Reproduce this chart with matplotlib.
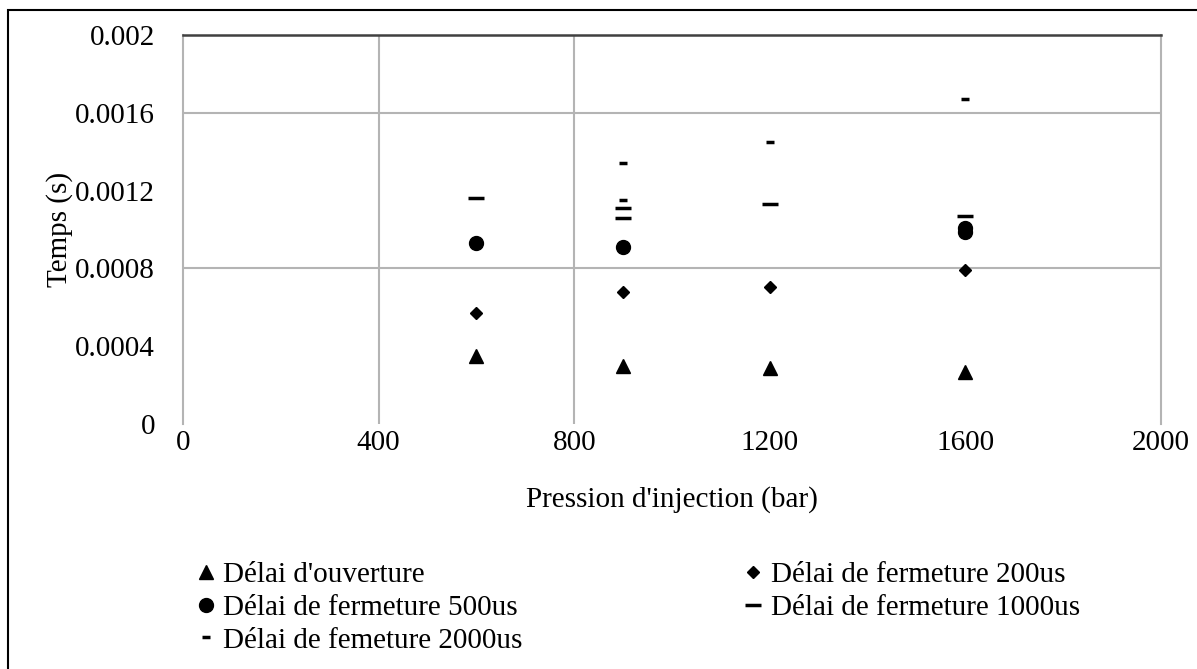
import matplotlib.pyplot as plt
from matplotlib.patches import Rectangle

plt.rcParams['font.family'] = ['Liberation Serif', 'DejaVu Serif']

# data
x_ouv = [600, 900, 1200, 1600]
y_ouv = [0.00035, 0.00030, 0.00029, 0.000267]

x_200 = [600, 900, 1200, 1600]
y_200 = [0.00057, 0.00068, 0.000705, 0.00079]

x_500 = [600, 900, 1600, 1600]
y_500 = [0.00093, 0.00091, 0.00099, 0.00101]

x_1000 = [600, 900, 900, 1200, 1600]
y_1000 = [0.00116, 0.00106, 0.00111, 0.00113, 0.00107]

x_2000 = [900, 900, 1200, 1600]
y_2000 = [0.00115, 0.00134, 0.00145, 0.00167]

xticks = [0, 400, 800, 1200, 1600, 2000]
yticks = [0, 0.0004, 0.0008, 0.0012, 0.0016, 0.002]
ytick_labels = ['0', '0.0004', '0.0008', '0.0012', '0.0016', '0.002']
xgrid = [400, 800]
ygrid = [0.0008, 0.0016]

fig = plt.figure(figsize=(11.97, 6.69), dpi=100)
ax = fig.add_axes([0.1529, 0.366, 0.8171, 0.5817])

fs = 21
grid_col = '#b4b4b4'

ax.plot(x_ouv, y_ouv, ls='none', marker='^', ms=10, color='black', label="Délai d'ouverture")
ax.plot(x_200, y_200, ls='none', marker='D', ms=6.5, color='black', label='Délai de fermeture 200us')
ax.plot(x_500, y_500, ls='none', marker='o', ms=10, color='black', label='Délai de fermeture 500us')
ax.plot(x_1000, y_1000, ls='none', marker='_', ms=12, mew=2.5, color='black', label='Délai de fermeture 1000us')
ax.plot(x_2000, y_2000, ls='none', marker='_', ms=6, mew=2.5, color='black', label='Délai de femeture 2000us')

for g in xgrid:
    ax.axvline(g, color=grid_col, lw=1.5, zorder=0)
for g in ygrid:
    ax.axhline(g, color=grid_col, lw=1.5, zorder=0)

ax.set_xlim(0, 2000)
ax.set_ylim(0, 0.002)
ax.set_xticks(xticks)
ax.set_xticklabels([str(v) for v in xticks])
ax.set_yticks(yticks)
ax.set_yticklabels(ytick_labels)
ax.tick_params(length=0, labelsize=fs)
ax.tick_params(axis='y', pad=20)
ax.tick_params(axis='x', pad=4)

ax.spines['bottom'].set_visible(False)
ax.spines['left'].set_color(grid_col)
ax.spines['right'].set_color(grid_col)
ax.spines['left'].set_linewidth(1.5)
ax.spines['right'].set_linewidth(1.5)
ax.spines['top'].set_color('#404040')
ax.spines['top'].set_linewidth(1.8)

ax.set_xlabel("Pression d'injection (bar)", fontsize=fs, labelpad=22)
ax.set_ylabel('Temps (s)', fontsize=fs, labelpad=2)

handles, labels = ax.get_legend_handles_labels()
order = [0, 2, 4, 1, 3]
fig.legend([handles[i] for i in order], [labels[i] for i in order],
           loc='upper left', bbox_to_anchor=(0.155, 0.178), ncol=2,
           frameon=False, fontsize=fs, handlelength=0.6, handletextpad=0.3,
           columnspacing=7.6, labelspacing=0.22, borderaxespad=0,
           bbox_transform=fig.transFigure)

# outer frame
fig.patches.append(Rectangle((8 / 1197, -0.1), 1.2, 1 - 10 / 669 + 0.1,
                             transform=fig.transFigure, fill=False,
                             edgecolor='black', lw=1.5, figure=fig))

fig.savefig('out.png', dpi=100)
